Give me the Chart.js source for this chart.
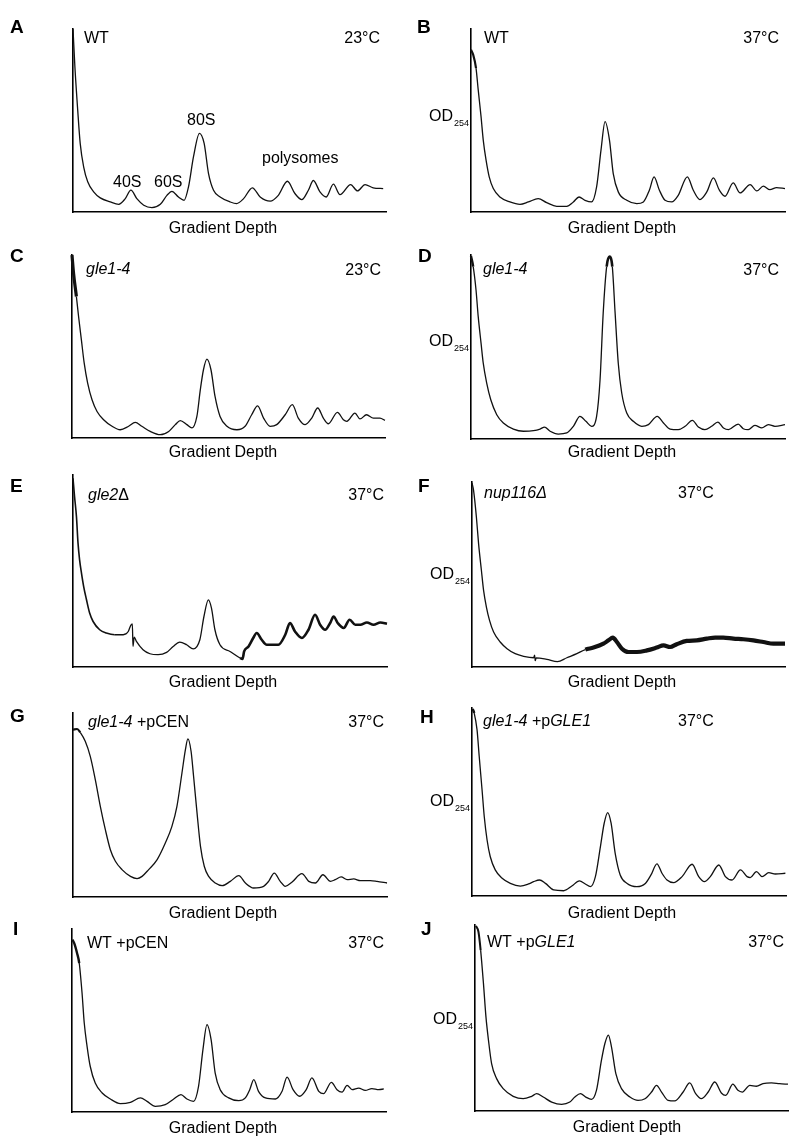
<!DOCTYPE html>
<html>
<head>
<meta charset="utf-8">
<script src="https://cdn.jsdelivr.net/npm/chart.js@4.4.1/dist/chart.umd.min.js"></script>
<style>
  body { margin: 0; background: #fff; }
  #fig { position: relative; width: 800px; height: 1143px; overflow: hidden; background: #fff; }
  #fig canvas { position: absolute; }
</style>
</head>
<body>
<div id="fig"></div>
<script>
// gradient depth (% of x axis) and OD254 (% of y axis)
const depthA = [0,0.6,1.5,2.3,3.4,4.7,6.6,8.7,11.9,14.6,16.7,18.5,20.4,22.6,25.2,27.9,30.0,31.6,33.7,35.5,36.9,38.5,40.4,41.9,43.3,44.9,47.0,50.2,52.3,54.5,57.3,59.8,63.0,65.6,68.5,70.9,73.1,75.2,76.8,78.9,80.9,83.2,85.3,88.7,90.9,93.3,95.9,99.1];
const odA = [100,79.5,55.8,37.5,24.7,16.5,11.0,7.7,5.5,4.2,7.3,11.9,7.3,3.7,2.4,4.2,9.1,11.3,8.2,6.4,13.7,30.2,43.0,37.5,21.0,11.9,8.2,5.5,4.6,7.3,13.2,8.2,5.9,9.1,16.8,10.1,6.8,11.9,17.2,11.0,8.2,15.2,9.5,15.0,11.5,15.0,13.2,12.8];

const depthB = [0,0.7,1.6,2.3,3.2,3.9,4.8,5.8,7.1,9.2,12.4,15.6,18.3,21.4,24.1,27.3,30.5,32.6,34.4,36.3,38.4,40.0,41.4,42.7,44.1,45.3,46.9,49.6,52.8,54.9,56.8,58.3,60.0,61.8,63.9,66.0,68.9,70.8,72.9,75.1,77.2,79.1,80.9,83.5,85.7,88.9,91.0,93.1,95.2,97.3,100];
const odB = [88.7,85.9,78.6,66.7,52.1,39.3,28.3,19.2,12.8,8.2,5.5,4.2,5.5,7.3,5.1,3.1,3.1,5.5,8.2,6.4,5.5,13.7,33.8,49.4,39.3,21.0,11.0,6.4,4.6,5.5,11.9,19.2,11.9,6.4,5.5,9.1,19.2,11.9,6.8,11.0,18.6,11.9,8.6,15.9,10.4,15.0,11.5,14.1,12.2,13.3,12.8];

const depthC = [0,0.5,1.4,2.1,3.0,3.9,5.0,6.4,8.0,10.1,12.8,15.4,18.1,20.2,22.3,25.0,28.2,30.9,33.0,34.6,36.7,38.3,39.9,41.0,42.0,43.1,44.4,45.7,47.3,49.5,52.7,55.3,57.4,59.3,61.2,63.3,65.4,68.1,70.4,72.3,74.5,76.6,78.5,80.3,81.9,84.8,86.7,87.8,90.4,92.0,94.1,96.3,98.4,100];
const odC = [100,90,77.3,66.4,53.6,40.9,30.0,20.9,14.5,10.0,6.4,4.5,6.4,8.5,6.4,3.6,1.8,3.6,7.3,9.5,7.3,5.5,11.8,26.4,37.3,43.1,37.3,22.7,11.8,6.4,4.5,6.4,12.7,17.6,10.9,6.4,7.3,12.7,18.2,10.9,7.3,10.9,16.4,10.9,7.8,14.0,10.0,9.1,13.6,10.4,12.7,10.9,10.9,9.6];

const depthD = [0,0.7,1.6,2.3,3.2,3.9,5.0,6.3,8.2,10.3,13.5,16.7,19.9,22.0,23.4,25.2,27.8,30.5,32.6,34.7,36.6,38.4,40.0,41.1,42.1,43.2,44.1,45.0,45.9,46.9,48.0,49.6,51.7,54.4,56.5,59.3,61.3,63.4,66.0,68.2,70.5,72.4,74.5,76.6,78.6,80.4,82.0,85.1,86.7,88.3,90.4,92.6,94.7,96.8,100];
const odD = [99.5,93.7,81.0,66.5,52.1,41.2,30.4,21.3,13.2,8.7,5.4,4.2,4.5,5.4,6.5,4.2,2.7,3.3,6.9,12.3,9.6,6.9,12.3,32.2,68.4,93.7,99.1,93.7,68.4,41.2,25.0,14.1,9.6,6.9,7.8,12.3,8.7,5.4,5.1,6.9,10.1,6.5,5.1,6.9,9.2,6.0,5.1,8.1,5.6,5.1,7.4,6.0,7.8,6.9,7.8];

const depthE = [0,0.5,1.1,1.6,2.1,2.7,3.4,4.3,5.3,6.4,8.5,10.6,13.3,16.0,17.6,18.4,18.9,19.1,19.5,20.2,22.3,24.5,27.1,29.8,31.9,34.0,36.2,38.3,40.4,41.7,43.1,44.1,45.2,46.8,50.0,53.2,54.0,54.5,55.9,57.4,58.5,60.1,61.7,65.4,67.6,69.1,70.7,72.9,75.0,77.1,78.7,80.3,81.9,83.0,84.3,86.2,88.1,89.9,91.5,93.6,95.7,97.9,100];
const odE = [98.3,88.7,78.3,64.5,55.8,48.9,41.9,35.0,28.1,23.7,19.4,17.7,16.8,16.8,18.5,21.7,22.5,10.7,15.6,13.3,9.0,6.9,6.4,7.6,10.7,13.0,11.6,9.4,14.2,26.3,35.0,30.7,19.4,11.6,8.1,4.7,4.2,8.1,10.7,15.1,17.7,14.2,11.6,11.6,16.8,22.9,18.5,15.1,19.4,27.2,22.0,19.4,22.9,26.3,22.9,20.3,24.6,22.0,22.0,23.2,22.0,23.2,22.5];

const depthF = [0,0.5,1.4,2.1,3.0,3.7,4.6,5.6,6.9,9.0,11.2,13.8,16.5,19.7,20.0,20.2,20.5,23.9,27.3,30.3,33.5,36.2,38.8,42.0,43.6,45.0,46.3,47.9,50.0,52.7,55.9,59.0,61.2,63.3,65.4,68.6,71.8,75.0,77.7,80.3,83.5,86.7,89.9,93.1,96.3,100];
const odF = [99.5,95.5,81.1,66.7,52.3,41.4,32.4,25.2,18.9,13.5,9.9,7.2,5.8,5.0,6.4,3.4,4.9,4.1,2.9,5.0,7.2,9.4,10.5,12.6,14.4,15.9,13.5,9.9,8.1,8.1,9.0,10.5,11.7,10.8,12.3,14.1,14.4,15.3,15.9,15.9,15.3,15.0,14.4,13.5,12.6,12.6];

const depthG = [0,1.3,2.3,3.9,5.5,7.1,8.7,10.3,11.9,13.5,15.6,18.3,20.4,22.0,24.1,26.8,29.4,31.5,33.1,34.7,35.8,36.6,37.6,38.4,39.5,40.6,41.8,43.2,45.3,47.5,50.1,52.8,54.9,57.5,60.7,62.3,64.1,66.0,67.6,69.7,72.9,75.1,77.2,79.6,82.0,83.5,85.4,87.3,89.4,91.5,94.7,96.8,100];
const odG = [90.9,91.3,89.5,84.6,76.4,63.8,49.3,36.6,25.7,19.4,14.9,11.2,10.0,11.2,14.9,20.3,29.3,38.4,49.3,67.4,80.1,85.9,79.2,65.6,45.7,27.5,16.7,11.2,7.6,6.2,8.5,11.6,7.6,4.9,5.8,8.5,13.0,8.5,5.8,8.0,12.7,8.5,7.6,12.1,8.5,9.4,10.9,9.4,9.8,8.9,8.9,8.5,7.6];

const depthH = [0.2,0.7,1.6,2.3,3.2,3.9,4.8,5.8,7.4,9.6,12.2,15.4,18.0,19.6,21.5,23.4,26.0,29.2,31.8,34.2,36.1,37.7,39.3,40.9,42.1,43.2,44.3,45.6,47.2,49.4,52.5,55.2,57.0,58.9,60.5,62.1,64.2,66.9,70.1,72.2,74.0,75.9,78.6,80.7,82.8,85.5,87.6,88.6,90.6,92.4,94.5,96.6,99.8];
const odH = [99.5,97.3,88.5,74.2,56.5,42.3,29.8,21.0,13.9,9.4,6.7,5.3,6.4,7.6,8.5,6.7,3.2,2.8,5.3,8.0,6.4,5.0,10.3,26.3,38.7,44.4,38.7,22.7,11.2,6.7,5.0,6.7,11.2,17.1,12.1,8.5,7.1,10.3,16.9,10.3,7.6,10.3,16.5,10.3,8.5,13.9,10.3,9.8,13.0,10.3,12.4,11.7,12.1];

const depthI = [0.1,0.7,1.6,2.3,3.2,3.9,4.8,5.8,7.4,9.6,12.2,15.4,18.6,21.8,23.9,26.5,29.7,32.4,34.7,36.6,38.7,40.3,41.7,43.0,44.3,45.6,47.2,49.9,53.1,55.2,56.6,57.9,59.4,61.6,64.8,66.9,68.5,70.4,72.5,74.6,76.4,78.6,80.1,82.6,84.4,86.0,87.6,89.2,91.3,93.4,95.5,97.7,99.3];
const odI = [94.2,92.3,86.9,81.4,65.0,48.6,35.9,25.0,15.8,10.4,7.1,4.6,5.3,7.7,5.8,3.1,4.0,7.1,9.5,7.1,5.8,14.0,34.1,47.7,39.5,21.3,12.2,7.7,6.2,7.7,12.2,17.7,11.3,7.7,7.1,11.3,19.1,12.2,8.6,12.2,18.6,11.3,10.0,16.2,12.2,10.9,14.6,12.2,13.1,11.8,12.8,12.2,12.6];

const depthJ = [0.3,1.1,1.8,2.7,3.5,4.3,5.3,6.9,9.0,12.2,15.4,18.1,19.7,21.8,24.5,27.7,30.3,31.9,33.7,35.4,37.2,38.8,40.4,41.5,42.6,43.6,45.0,46.8,49.5,52.1,54.3,56.4,58.0,59.6,61.7,63.8,66.5,68.6,70.5,72.3,74.5,76.6,78.7,80.1,82.4,84.0,85.4,87.8,89.9,92.0,94.7,97.3,100];
const odJ = [99.5,96.4,86.5,68.6,50.6,38.1,25.5,17.4,12.0,7.9,6.6,7.9,9.3,7.5,4.8,3.6,4.8,7.5,9.3,7.5,6.3,11.1,27.3,36.3,40.8,34.5,20.1,12.0,7.5,5.7,6.6,10.2,13.8,10.2,5.7,5.4,10.2,15.1,9.3,6.6,10.2,15.6,9.7,8.4,14.4,11.1,10.2,13.8,13.3,14.7,15.1,14.7,14.4];

// panel texts
const xTitle = 'Gradient Depth';
const yTitle = ['OD', '254'];
const strains = {
    A: [['WT']], B: [['WT']],
    C: [['gle1-4', true]], D: [['gle1-4', true]],
    E: [['gle2', true], ['Δ']], F: [['nup116Δ', true]],
    G: [['gle1-4', true], [' +pCEN']], H: [['gle1-4', true], [' +p'], ['GLE1', true]],
    I: [['WT +pCEN']], J: [['WT +p'], ['GLE1', true]]
};
const temps = { A: '23°C', B: '37°C', C: '23°C', D: '37°C', E: '37°C', F: '37°C', G: '37°C', H: '37°C', I: '37°C', J: '37°C' };
const peakNames = ['40S', '60S', '80S', 'polysomes'];

const FONT = '"Liberation Sans", Arial, Helvetica, sans-serif';

// page layout: axis box [left, top, right, bottom], letter, strain, temp, OD label, x title
const layout = {
    A: { data: [depthA, odA], box: [73, 29, 386, 212], letter: [10, 33], strain: [84, 43], temp: [380, 43, 'right'], od: null, gd: [223, 233], thick: [] },
    B: { data: [depthB, odB], box: [471, 29, 785, 212], letter: [417, 33], strain: [484, 43], temp: [779, 43, 'right'], od: [429, 121], gd: [622, 233], thick: [[0, 1.6, 2.2]] },
    C: { data: [depthC, odC], box: [72, 255, 385, 438], letter: [10, 262], strain: [86, 274], temp: [381, 275, 'right'], od: null, gd: [223, 457], thick: [[0, 1.0, 3.2]] },
    D: { data: [depthD, odD], box: [471, 255, 785, 439], letter: [418, 262], strain: [483, 274], temp: [779, 275, 'right'], od: [429, 346], gd: [622, 457], thick: [[0, 1.0, 2.4], [43.2, 45.0, 2.6]] },
    E: { data: [depthE, odE], box: [73, 475, 387, 667], letter: [10, 492], strain: [88, 500], temp: [384, 500, 'right'], od: null, gd: [223, 687], thick: [[0, 12, 1.6], [53, 100, 2.6]] },
    F: { data: [depthF, odF], box: [472, 482, 785, 667], letter: [418, 492], strain: [484, 498], temp: [678, 498, 'left'], od: [430, 579], gd: [622, 687], thick: [[36, 100, 4.2]] },
    G: { data: [depthG, odG], box: [73, 713, 387, 897], letter: [10, 722], strain: [88, 727], temp: [384, 727, 'right'], od: null, gd: [223, 918], thick: [[0, 3, 2.2]] },
    H: { data: [depthH, odH], box: [472, 708, 786, 896], letter: [420, 723], strain: [483, 726], temp: [678, 726, 'left'], od: [430, 806], gd: [622, 918], thick: [[0, 1.0, 2.4]] },
    I: { data: [depthI, odI], box: [72, 929, 386, 1112], letter: [13, 935], strain: [87, 948], temp: [384, 948, 'right'], od: null, gd: [223, 1133], thick: [[0, 2.3, 2.4]] },
    J: { data: [depthJ, odJ], box: [475, 925, 788, 1111], letter: [421, 935], strain: [487, 947], temp: [784, 947, 'right'], od: [433, 1024], gd: [627, 1132], thick: [[0, 1.8, 2.0]] }
};
// where the peak names sit in panel A
const peakPos = [[113, 187], [154, 187], [187, 125], [262, 163]];

function drawParts(ctx, parts, x, y, size, align) {
    const fonts = parts.map(p => (p[1] ? 'italic ' : '') + size + 'px ' + FONT);
    let w = 0;
    parts.forEach((p, i) => { ctx.font = fonts[i]; w += ctx.measureText(p[0]).width; });
    let cx = align === 'right' ? x - w : (align === 'center' ? x - w / 2 : x);
    parts.forEach((p, i) => {
        ctx.font = fonts[i];
        ctx.fillText(p[0], cx, y);
        cx += ctx.measureText(p[0]).width;
    });
}

function makePanel(key) {
    const p = layout[key];
    const [L, T, R, B] = p.box;
    const colX = L < 400 ? 0 : 400;
    const top = T - 40;
    const canvas = document.createElement('canvas');
    canvas.width = 400;
    canvas.height = B - T + 70;
    canvas.style.left = colX + 'px';
    canvas.style.top = top + 'px';
    document.getElementById('fig').appendChild(canvas);

    const [depth, od] = p.data;
    const points = depth.map((d, i) => ({ x: d, y: od[i] }));

    const widthAt = x => {
        for (const t of p.thick) {
            if (x >= t[0] && x <= t[1]) return t[2];
        }
        return 1.3;
    };

    const labels = {
        id: 'labels' + key,
        afterDraw(chart) {
            const ctx = chart.ctx;
            ctx.save();
            ctx.translate(-colX, -top);
            ctx.fillStyle = '#000';
            ctx.textAlign = 'left';
            ctx.textBaseline = 'alphabetic';

            ctx.font = 'bold 19px ' + FONT;
            ctx.fillText(key, p.letter[0], p.letter[1]);

            drawParts(ctx, strains[key], p.strain[0], p.strain[1], 16, 'left');
            drawParts(ctx, [[temps[key]]], p.temp[0], p.temp[1], 16, p.temp[2]);
            drawParts(ctx, [[xTitle]], p.gd[0], p.gd[1], 16, 'center');

            if (p.od) {
                ctx.font = '16px ' + FONT;
                ctx.fillText(yTitle[0], p.od[0], p.od[1]);
                const w = ctx.measureText(yTitle[0]).width;
                ctx.font = '9px ' + FONT;
                ctx.fillText(yTitle[1], p.od[0] + w + 1, p.od[1] + 5);
            }
            if (key === 'A') {
                peakNames.forEach((n, i) => drawParts(ctx, [[n]], peakPos[i][0], peakPos[i][1], 16, 'left'));
            }
            ctx.restore();
        }
    };

    const axis = {
        grid: { display: false, drawTicks: false },
        ticks: { display: false },
        border: { display: true, color: '#000', width: 1.6 }
    };

    new Chart(canvas, {
        type: 'line',
        data: {
            datasets: [{
                data: points,
                borderColor: '#111',
                borderWidth: 1.3,
                pointRadius: 0,
                fill: false,
                clip: false,
                cubicInterpolationMode: 'monotone',
                segment: {
                    borderWidth: c => widthAt((c.p0.parsed.x + c.p1.parsed.x) / 2)
                }
            }]
        },
        options: {
            responsive: false,
            animation: false,
            events: [],
            layout: { autoPadding: false, padding: { left: L - colX, right: colX + 400 - R, top: 40, bottom: 30 } },
            plugins: { legend: { display: false }, tooltip: { enabled: false } },
            scales: {
                x: Object.assign({ type: 'linear', min: 0, max: 100 }, axis),
                y: Object.assign({ min: 0, max: 100 }, axis)
            }
        },
        plugins: [labels]
    });
}

Object.keys(layout).forEach(makePanel);
</script>
</body>
</html>
